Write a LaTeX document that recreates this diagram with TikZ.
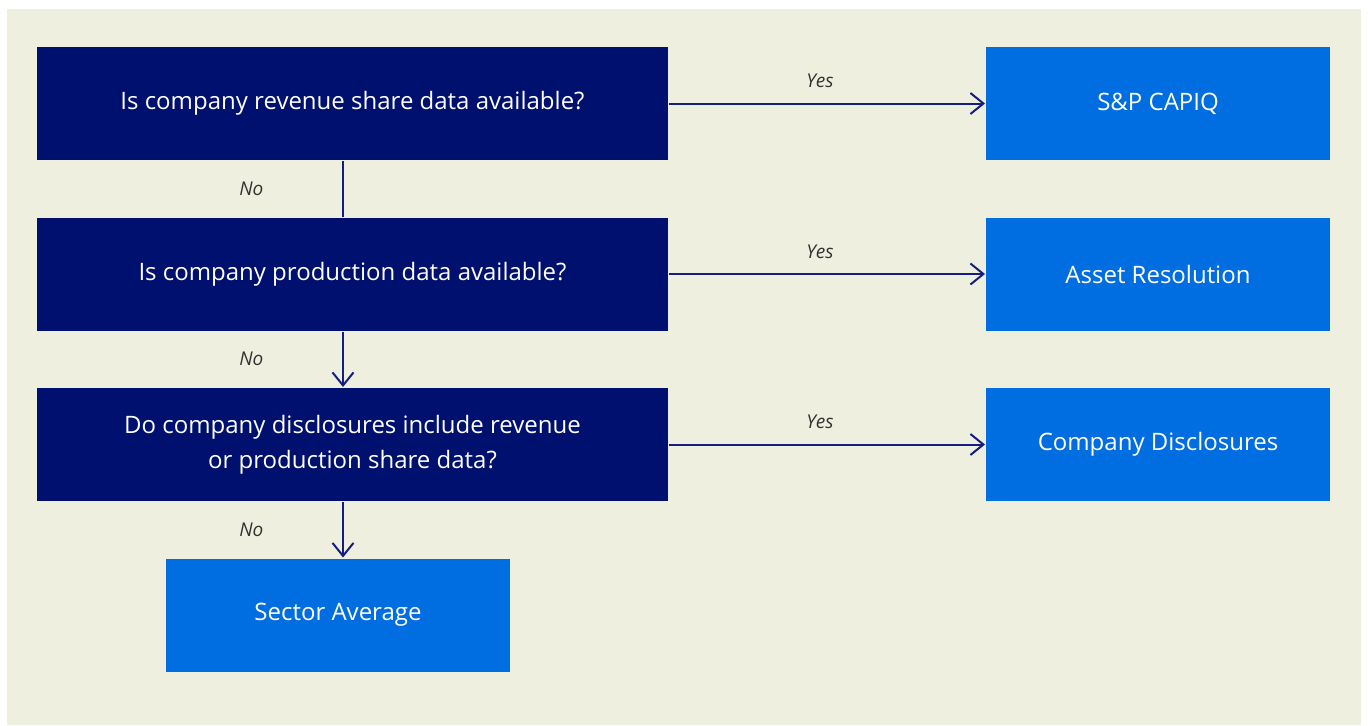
\documentclass[tikz,border=0pt]{standalone}
\usepackage{fontspec}
\setmainfont{Open Sans}
\usetikzlibrary{positioning,arrows.meta}
\definecolor{questionnavy}{RGB}{0,16,110}
\definecolor{sourceblue}{RGB}{0,110,225}
\definecolor{panelbeige}{RGB}{239,239,223}
\definecolor{arrownavy}{RGB}{20,30,128}

\begin{document}
\begin{tikzpicture}[-{Straight Barb[length=6.5pt,width=10.5pt]}, auto, node distance = 85.25pt and 402.75pt, on grid, line width=1pt, arrownavy,
  question/.style={rectangle, fill=questionnavy, text=white, minimum width=315.5pt, minimum height=56.5pt, align=center, font=\fontsize{12}{17.5}\selectfont},
  source/.style={rectangle, fill=sourceblue, text=white, minimum width=172pt, minimum height=56.5pt, font=\fontsize{12}{17.5}\selectfont},
  answer/.style={text=black!80, font=\itshape\fontsize{9.5}{11}\selectfont}]
\useasboundingbox (0pt,0pt) rectangle (684pt,-362.5pt);
\fill[panelbeige] (3.5pt,-4.5pt) rectangle (680.5pt,-362.5pt);
\node[question] (q1) at (176.25pt,-51.75pt) {Is company revenue share data available?};
\node[question] (q2) [below = of q1] {Is company production data available?};
\node[question] (q3) [below = of q2] {Do company disclosures include revenue\\or production share data?};
\node[source] (capiq) [right = of q1] {S\&P CAPIQ};
\node[source] (asset) [right = of q2] {Asset Resolution};
\node[source] (discl) [right = of q3] {Company Disclosures};
\node[source] (avg) [below = of q3, xshift=-7.25pt] {Sector Average};
\path ([xshift=-4.75pt]q1.south) edge[-] node[left=36pt, answer] {No} ([xshift=-4.75pt]q2.north);
\path ([xshift=-4.75pt]q2.south) edge node[left=36pt, answer] {No} ([xshift=-4.75pt]q3.north);
\path ([xshift=-4.75pt]q3.south) edge node[left=36pt, answer] {No} ([xshift=2.5pt]avg.north);
\path (q1) edge node[above=4pt, xshift=-3.5pt, answer] {Yes} (capiq);
\path (q2) edge node[above=4pt, xshift=-3.5pt, answer] {Yes} (asset);
\path (q3) edge node[above=4pt, xshift=-3.5pt, answer] {Yes} (discl);
\end{tikzpicture}
\end{document}
